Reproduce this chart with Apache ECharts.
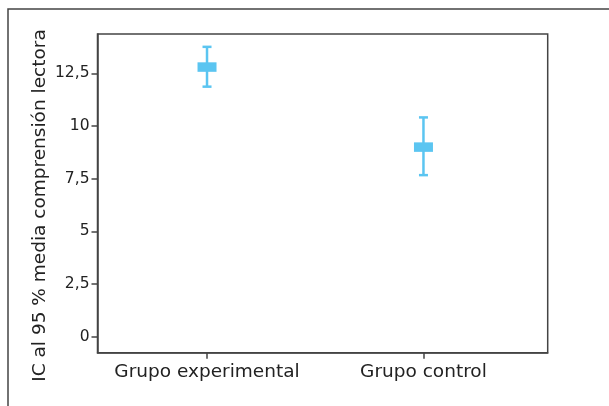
<!DOCTYPE html>
<html>
<head>
<meta charset="utf-8">
<script src="https://cdn.jsdelivr.net/npm/echarts@6/dist/echarts.min.js"></script>
<style>
  html, body { margin: 0; padding: 0; background: #fff; }
  #chart { width: 609px; height: 406px; }
</style>
</head>
<body>
<div id="chart"></div>
<script>
// datos
const groups = ['Grupo experimental', 'Grupo control'];
const groupPos = [1, 2];
const means = [12.8, 9.0];
const lowers = [11.87, 7.67];
const uppers = [13.76, 10.41];
const yTicks = [0, 2.5, 5, 7.5, 10, 12.5];
const yTitle = 'IC al 95 % media comprensión lectora';

const lineColor = '#444';
const textColor = '#222';
const barColor = '#5bc5f1';
const font = 'DejaVu Sans';

const myChart = echarts.init(document.getElementById('chart'));

const option = {
  animation: false,
  grid: {
    left: 97.5,
    right: 61.3,
    top: 34,
    bottom: 53.3,
    show: true,
    borderColor: lineColor,
    borderWidth: 1.5,
  },
  graphic: [
    {
      // marco exterior
      type: 'rect',
      shape: { x: 8, y: 9, width: 700, height: 500 },
      style: { fill: 'none', stroke: lineColor, lineWidth: 1.5 },
    },
    {
      type: 'text',
      x: 40,
      y: 205.5,
      rotation: Math.PI / 2,
      style: {
        text: yTitle,
        fill: textColor,
        font: `18.5px "${font}"`,
        align: 'center',
        verticalAlign: 'middle',
      },
    },
  ],
  xAxis: {
    type: 'value',
    min: 0.494,
    max: 2.574,
    splitLine: { show: false },
    axisLine: { show: true, onZero: false, lineStyle: { color: lineColor, width: 1.5 } },
    axisTick: {
      show: true,
      length: 6,
      customValues: groupPos,
      lineStyle: { color: lineColor, width: 1.5 },
    },
    axisLabel: {
      customValues: groupPos,
      margin: 10,
      color: textColor,
      fontFamily: font,
      fontSize: 18.5,
      formatter: (v) => groups[groupPos.indexOf(v)] || '',
    },
  },
  yAxis: {
    type: 'value',
    min: -0.76,
    max: 14.37,
    splitLine: { show: false },
    axisLine: { show: true, onZero: false, lineStyle: { color: lineColor, width: 1.5 } },
    axisTick: {
      show: true,
      length: 6,
      customValues: yTicks,
      lineStyle: { color: lineColor, width: 1.5 },
    },
    axisLabel: {
      customValues: yTicks,
      margin: 8,
      color: textColor,
      fontFamily: font,
      fontSize: 15.5,
      formatter: (v) => String(v).replace('.', ','),
    },
  },
  series: [
    {
      type: 'custom',
      data: groupPos.map((x, i) => [x, lowers[i], uppers[i], means[i]]),
      renderItem(params, api) {
        const x = api.value(0);
        const lo = api.coord([x, api.value(1)]);
        const hi = api.coord([x, api.value(2)]);
        const mid = api.coord([x, api.value(3)]);
        const capW = 9;
        const boxW = 19;
        const boxH = 9.5;
        const lineStyle = { stroke: barColor, lineWidth: 2.5 };
        return {
          type: 'group',
          children: [
            { type: 'line', shape: { x1: hi[0], y1: hi[1], x2: lo[0], y2: lo[1] }, style: lineStyle },
            { type: 'line', shape: { x1: hi[0] - capW / 2, y1: hi[1], x2: hi[0] + capW / 2, y2: hi[1] }, style: lineStyle },
            { type: 'line', shape: { x1: lo[0] - capW / 2, y1: lo[1], x2: lo[0] + capW / 2, y2: lo[1] }, style: lineStyle },
            {
              type: 'rect',
              shape: { x: mid[0] - boxW / 2, y: mid[1] - boxH / 2, width: boxW, height: boxH },
              style: { fill: barColor },
            },
          ],
        };
      },
    },
  ],
};

myChart.setOption(option);
</script>
</body>
</html>
